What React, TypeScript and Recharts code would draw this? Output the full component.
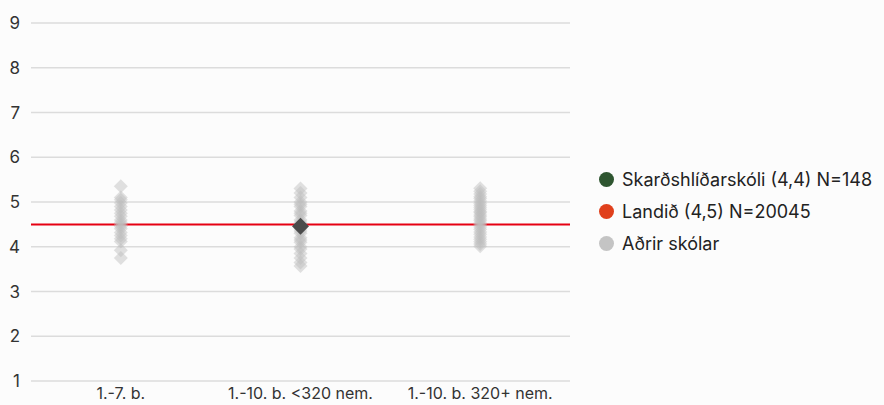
import { ScatterChart, Scatter, XAxis, YAxis, CartesianGrid, ReferenceLine } from 'recharts';

const categories = ['1.-7. b.', '1.-10. b. <320 nem.', '1.-10. b. 320+ nem.'];
const yTicks = [1, 2, 3, 4, 5, 6, 7, 8, 9];

// Aðrir skólar, one list per category
const othersSmall = [5.35, 5.1, 5.05, 4.98, 4.9, 4.82, 4.75, 4.68, 4.6, 4.55, 4.5, 4.45, 4.4, 4.32, 4.25, 4.18, 4.12, 3.92, 3.75];
const othersMid = [5.3, 5.2, 5.1, 5.0, 4.95, 4.9, 4.8, 4.75, 4.7, 4.6, 4.55, 4.5, 4.45, 4.4, 4.35, 4.3, 4.2, 4.15, 4.1, 4.0, 3.95, 3.85, 3.75, 3.65, 3.57];
const othersLarge = [5.31, 5.24, 5.18, 5.12, 5.08, 5.02, 4.97, 4.93, 4.88, 4.84, 4.79, 4.76, 4.71, 4.67, 4.62, 4.58, 4.53, 4.49, 4.44, 4.39, 4.33, 4.28, 4.22, 4.17, 4.11, 4.06, 4.01];

const schoolCategory = 1;
const schoolValue = 4.46;
const nationalValue = 4.5;

const legendItems = [
  { label: 'Skarðshlíðarskóli (4,4) N=148', color: '#2e5530' },
  { label: 'Landið (4,5) N=20045', color: '#e0401c' },
  { label: 'Aðrir skólar', color: '#c4c4c4' },
];

const others = [othersSmall, othersMid, othersLarge].flatMap((vals, i) => vals.map((v) => ({ x: i, y: v })));
const school = [{ x: schoolCategory, y: schoolValue }];

const GreyDiamond = (props: any) => {
  const { cx, cy } = props;
  const r = 7;
  return <polygon points={`${cx},${cy - r} ${cx + r},${cy} ${cx},${cy + r} ${cx - r},${cy}`} fill="#bdbdbd" fillOpacity={0.45} />;
};

const DarkDiamond = (props: any) => {
  const { cx, cy } = props;
  const r = 8.5;
  return <polygon points={`${cx},${cy - r} ${cx + r},${cy} ${cx},${cy + r} ${cx - r},${cy}`} fill="#4b4b4b" />;
};

export default function App() {
  return (
    <div style={{ position: 'relative', width: 884, height: 405, background: '#fcfcfc', fontFamily: 'Inter, sans-serif' }}>
      <style>{'body{margin:0}'}</style>
      <ScatterChart width={884} height={405} margin={{ top: 23, right: 314, bottom: 0, left: 0 }}>
        <CartesianGrid vertical={false} stroke="#dcdcdc" strokeWidth={1.5} />
        <XAxis
          type="number"
          dataKey="x"
          domain={[-0.5, 2.5]}
          ticks={[0, 1, 2]}
          tickFormatter={(i: number) => categories[i]}
          axisLine={false}
          tickLine={false}
          height={24}
          tickMargin={1}
          tick={{ fill: '#333', fontSize: 16 }}
        />
        <YAxis
          type="number"
          dataKey="y"
          domain={[1, 9]}
          ticks={yTicks}
          axisLine={false}
          tickLine={false}
          width={31}
          tickMargin={5}
          tick={{ fill: '#333', fontSize: 17 }}
        />
        <ReferenceLine y={nationalValue} stroke="#e60012" strokeWidth={2} />
        <Scatter data={others} shape={GreyDiamond} isAnimationActive={false} />
        <Scatter data={school} shape={DarkDiamond} isAnimationActive={false} />
      </ScatterChart>
      <div style={{ position: 'absolute', left: 599, top: 163 }}>
        {legendItems.map((it) => (
          <div key={it.label} style={{ display: 'flex', alignItems: 'center', height: 32, fontSize: 18, color: '#222', whiteSpace: 'nowrap' }}>
            <span style={{ width: 15, height: 15, borderRadius: '50%', background: it.color, marginRight: 8, flexShrink: 0 }} />
            {it.label}
          </div>
        ))}
      </div>
    </div>
  );
}
